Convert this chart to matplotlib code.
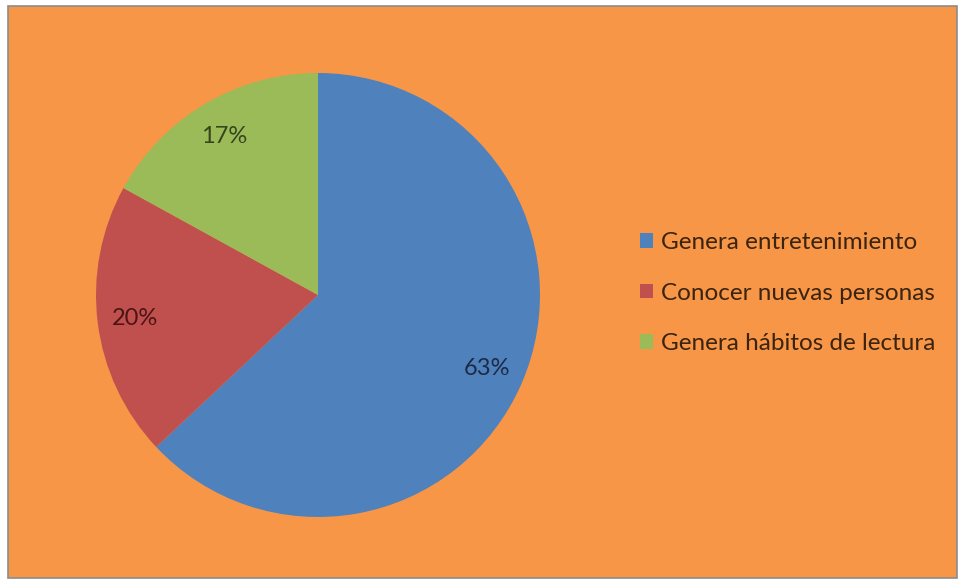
import matplotlib
matplotlib.use("Agg")
import matplotlib.pyplot as plt
from matplotlib.patches import Rectangle, Patch

labels = ["Genera entretenimiento", "Conocer nuevas personas", "Genera hábitos de lectura"]
values = [63, 20, 17]
colors = ["#4F81BD", "#C0504D", "#9BBB59"]
pct_colors = ["#1C2B45", "#4A1514", "#36461C"]

W, H = 961, 580
fig = plt.figure(figsize=(W / 100, H / 100), dpi=100, facecolor="white")

# orange chart area with a thin grey border
fig.patches.append(Rectangle((8 / W, 2 / H), 949 / W, 572 / H, transform=fig.transFigure,
                             facecolor="#F79646", edgecolor="#8C8C8C", linewidth=1.2,
                             zorder=-5))

ax = fig.add_axes([96 / W, (H - 517) / H, 444 / W, 444 / H], zorder=2)
ax.set_facecolor("none")
wedges, _, autotexts = ax.pie(values, colors=colors, startangle=90, counterclock=False,
                              autopct="%d%%", pctdistance=0.83, radius=1,
                              wedgeprops=dict(linewidth=0),
                              textprops=dict(fontsize=17, family="Lato"))
for t, c in zip(autotexts, pct_colors):
    t.set_color(c)
ax.set_xlim(-1, 1)
ax.set_ylim(-1, 1)
ax.set_aspect("equal")
ax.axis("off")

handles = [Patch(facecolor=c, edgecolor="none") for c in colors]
leg = fig.legend(handles, labels, loc="center left", bbox_to_anchor=(618 / W, 1 - 293 / H),
                 frameon=False, handlelength=0.55, handleheight=0.55, handletextpad=0.3,
                 labelspacing=1.22, prop=dict(family="Lato", size=17.5),
                 labelcolor="#3A2410")
leg.set_zorder(3)

fig.savefig("out.png", dpi=100, facecolor="white")
